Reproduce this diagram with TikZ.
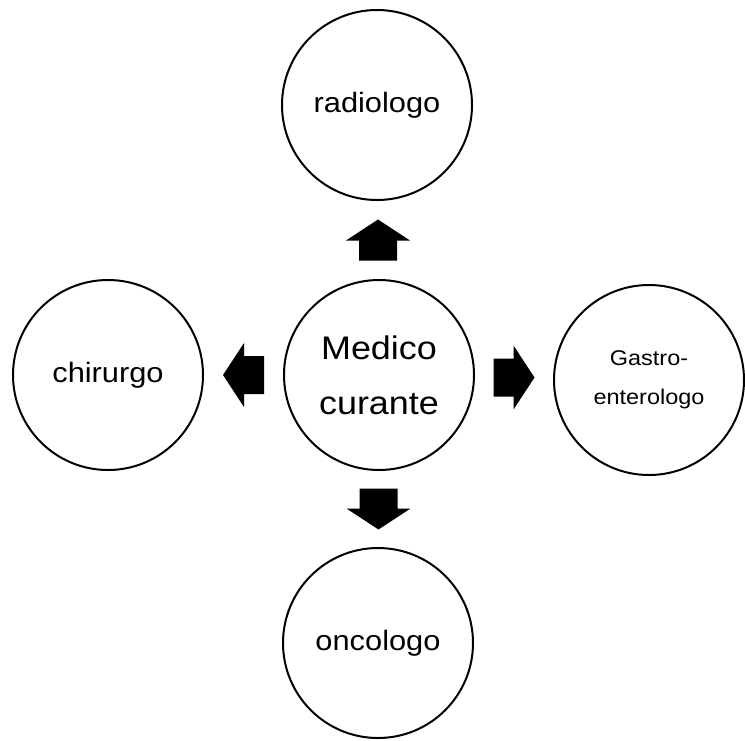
\documentclass[tikz,border=0pt]{standalone}
\usepackage{fontspec}
\setmainfont[FakeStretch=1.1]{Liberation Sans}
\usetikzlibrary{positioning,calc}
\tikzstyle{doc} = [circle,draw,line width=1.5pt,minimum size=142.5pt,inner sep=0pt,align=center,font=\fontsize{21}{30}\selectfont]
\tikzset{bigarrow/.pic={\fill (-20.5,-19) -- (-0.5,-19) -- (-0.5,-32) -- (20.5,0) -- (-0.5,32) -- (-0.5,19) -- (-20.5,19) -- cycle;}}

\begin{document}
\begin{tikzpicture}[x=0.75pt,y=-0.75pt]
\useasboundingbox (0,0) rectangle (745,740);
\node[doc,font=\fontsize{24.5}{41}\selectfont] (med) at (379,375) {Medico\\curante};
\node[doc] (rad) at (377,105) {radiologo};
\node[doc] (chir) at (108,375) {chirurgo};
\node[doc,font=\fontsize{16}{29}\selectfont] (gas) at (649,380) {Gastro-\\enterologo};
\node[doc] (onc) at (378,643) {oncologo};
% frecce
\pic[rotate=90] at ($(med.north)!.5!(rad.south)$) {bigarrow};
\pic[rotate=180] at ($(med.west)!.5!(chir.east)$) {bigarrow};
\pic at ($(med.east)!.5!(gas.west)$) {bigarrow};
\pic[rotate=-90] at ($(med.south)!.5!(onc.north)$) {bigarrow};
\end{tikzpicture}
\end{document}
